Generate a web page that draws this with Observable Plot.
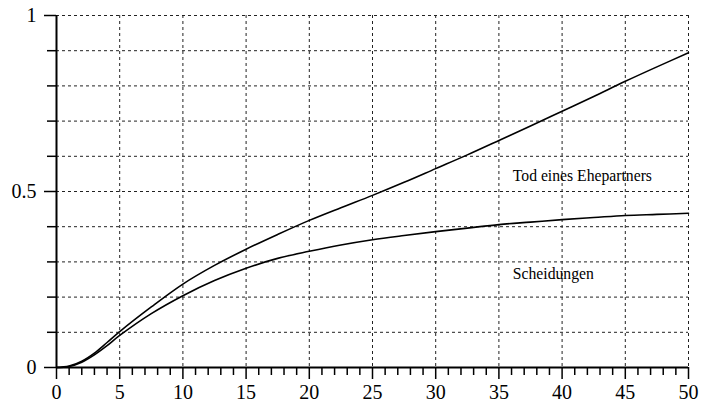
<!DOCTYPE html>
<html>
<head>
<meta charset="utf-8">
<script src="https://cdn.jsdelivr.net/npm/d3@7"></script>
<script src="https://cdn.jsdelivr.net/npm/@observablehq/plot@0.6"></script>
<style>
  html, body { margin: 0; padding: 0; background: #fff; }
  #chart svg { display: block; }
  #chart svg, #chart svg text { font-family: "Liberation Serif", "Times New Roman", serif !important; }
</style>
</head>
<body>
<div id="chart"></div>
<script>
const years = [0, 1, 2, 3, 4, 5, 7.5, 10, 12.5, 15, 17.5, 20, 22.5, 25, 27.5, 30, 32.5, 35, 37.5, 40, 42.5, 45, 47.5, 50];
const tod = [0, 0.004, 0.018, 0.041, 0.071, 0.102, 0.172, 0.237, 0.29, 0.336, 0.378, 0.418, 0.454, 0.489, 0.526, 0.565, 0.604, 0.645, 0.686, 0.728, 0.770, 0.813, 0.854, 0.894];
const scheidungen = [0, 0.003, 0.015, 0.036, 0.062, 0.091, 0.153, 0.204, 0.247, 0.282, 0.31, 0.33, 0.348, 0.363, 0.375, 0.386, 0.396, 0.406, 0.413, 0.42, 0.426, 0.432, 0.435, 0.438];
const labels = [
  {name: "Tod eines Ehepartners", x: 36.1, y: 0.545},
  {name: "Scheidungen", x: 36.1, y: 0.265}
];
const xMajor = d3.range(0, 51, 5);
const xMinor = d3.range(0, 51, 1).filter(d => d % 5 !== 0);
const yMajor = [0, 0.5, 1];
const yMinor = d3.range(1, 10).map(i => i / 10).filter(d => d !== 0.5);
const yGrid = d3.range(1, 11).map(i => i / 10);
const xGrid = d3.range(5, 51, 5);

const rows = (ys, series) => years.map((x, i) => ({x, y: ys[i], series}));
const data = [...rows(tod, "Tod eines Ehepartners"), ...rows(scheidungen, "Scheidungen")];

const serif = "Liberation Serif";

const chart = Plot.plot({
  width: 701,
  height: 403,
  marginLeft: 56,
  marginRight: 13,
  marginTop: 15,
  marginBottom: 36,
  style: {fontFamily: serif, background: "#fff", color: "#000"},
  x: {domain: [0, 50]},
  y: {domain: [0, 1]},
  marks: [
    Plot.ruleY(yGrid, {stroke: "#222", strokeWidth: 1, strokeDasharray: "3,3"}),
    Plot.ruleX(xGrid, {stroke: "#222", strokeWidth: 1, strokeDasharray: "3,3"}),
    Plot.axisX({ticks: xMajor, tickSize: 12, tickPadding: 5, fontSize: 20, fontFamily: serif, tickFormat: d => String(d), label: null, strokeWidth: 1.5}),
    Plot.axisX({ticks: xMinor, tickSize: 8, tickFormat: () => "", label: null, strokeWidth: 1.5}),
    Plot.axisY({ticks: yMajor, tickSize: 12, tickPadding: 8, fontSize: 20, fontFamily: serif, tickFormat: d => String(d), label: null, strokeWidth: 1.5}),
    Plot.axisY({ticks: yMinor, tickSize: 9, tickFormat: () => "", label: null, strokeWidth: 1.5}),
    Plot.ruleX([0], {stroke: "#000", strokeWidth: 2}),
    Plot.ruleY([0], {stroke: "#000", strokeWidth: 2}),
    Plot.line(data, {x: "x", y: "y", z: "series", stroke: "#000", strokeWidth: 1.6, curve: "catmull-rom"}),
    Plot.text(labels, {x: "x", y: "y", text: "name", textAnchor: "start", fontSize: 15.7, fontFamily: serif, fill: "#000"})
  ]
});
document.getElementById("chart").appendChild(chart);
</script>
</body>
</html>
